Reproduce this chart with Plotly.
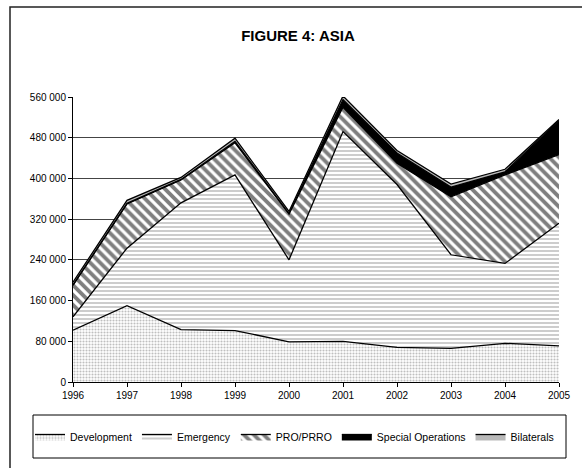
import plotly.graph_objects as go

years = [1996, 1997, 1998, 1999, 2000, 2001, 2002, 2003, 2004, 2005]
development = [102000, 150000, 103000, 101000, 79000, 80000, 68000, 66000, 76000, 71000]
emergency = [26000, 113000, 249000, 306000, 161000, 412000, 320000, 184000, 157000, 241000]
pro_prro = [62000, 87000, 45000, 63000, 90000, 48000, 42000, 114000, 174000, 135000]
special_ops = [1000, 1000, 1000, 3000, 1000, 15000, 20000, 19000, 6000, 67000]
bilaterals = [5000, 6000, 4000, 6000, 4000, 7000, 5000, 6000, 5000, 2000]
y_ticks = [0, 80000, 160000, 240000, 320000, 400000, 480000, 560000]

FONT = "Liberation Sans, Arial, sans-serif"

series = [
    ("Development", development, dict(shape=".", size=3, solidity=0.4, fgcolor="#808080", bgcolor="white"), None),
    ("Emergency", emergency, dict(shape="-", size=4, solidity=0.35, fgcolor="#707070", bgcolor="white"), None),
    ("PRO/PRRO", pro_prro, dict(shape="\\", size=7, solidity=0.55, fgcolor="black", bgcolor="white"), None),
    ("Special Operations", special_ops, None, "black"),
    ("Bilaterals", bilaterals, dict(shape="|", size=2, solidity=0.5, fgcolor="#777777", bgcolor="#cfcfcf"), None),
]

fig = go.Figure()
for name, vals, pat, fc in series:
    kw = dict(x=years, y=vals, name=name, mode="lines", stackgroup="one",
              line=dict(color="black", width=1.3))
    if pat is not None:
        kw["fillpattern"] = pat
        kw["fillcolor"] = "white"
    else:
        kw["fillcolor"] = fc
    fig.add_trace(go.Scatter(**kw))

L, R, T, B = 73, 23, 97, 86
W, H = 582, 468
pw, ph = W - L - R, H - T - B

def px_x(p):
    return (p - L) / pw

def px_y(p):
    return (H - B - p) / ph

fig.update_layout(
    width=W, height=H,
    margin=dict(l=L, r=R, t=T, b=B),
    paper_bgcolor="white", plot_bgcolor="white",
    separators=". ",
    font=dict(family=FONT, size=10, color="black"),
    title=dict(text="<b>FIGURE 4: ASIA</b>", x=298 / W, xref="container", xanchor="center",
               y=1 - 36 / H, yref="container", yanchor="middle",
               font=dict(family=FONT, size=15, color="black")),
    xaxis=dict(range=[1996, 2005], tickvals=years, ticks="outside", ticklen=4, tickcolor="black",
               showline=True, linecolor="black", linewidth=1, showgrid=False, zeroline=False,
               tickfont=dict(size=10)),
    yaxis=dict(range=[0, 560000], tickvals=y_ticks, tickformat=",d", ticks="outside", ticklen=4,
               tickcolor="black", showline=True, linecolor="black", linewidth=1,
               showgrid=True, gridcolor="#444444", gridwidth=1, zeroline=False,
               tickfont=dict(size=10)),
    showlegend=True,
    legend=dict(orientation="h", x=px_x(30), xanchor="left", y=px_y(436.5), yanchor="middle",
                traceorder="normal", itemwidth=30, font=dict(family=FONT, size=10.5),
                bgcolor="rgba(0,0,0,0)", borderwidth=0),
    shapes=[
        dict(type="rect", xref="paper", yref="paper", x0=px_x(10), x1=px_x(620), y0=px_y(500), y1=px_y(7),
             line=dict(color="#222222", width=1.5), fillcolor="rgba(0,0,0,0)", layer="below"),
        dict(type="rect", xref="paper", yref="paper", x0=px_x(33), x1=px_x(566), y0=px_y(458), y1=px_y(415),
             line=dict(color="black", width=1), fillcolor="rgba(0,0,0,0)", layer="below"),
    ],
)

fig.write_html("out.html", config={"displayModeBar": False},
               post_script="document.body.style.margin='0';")
